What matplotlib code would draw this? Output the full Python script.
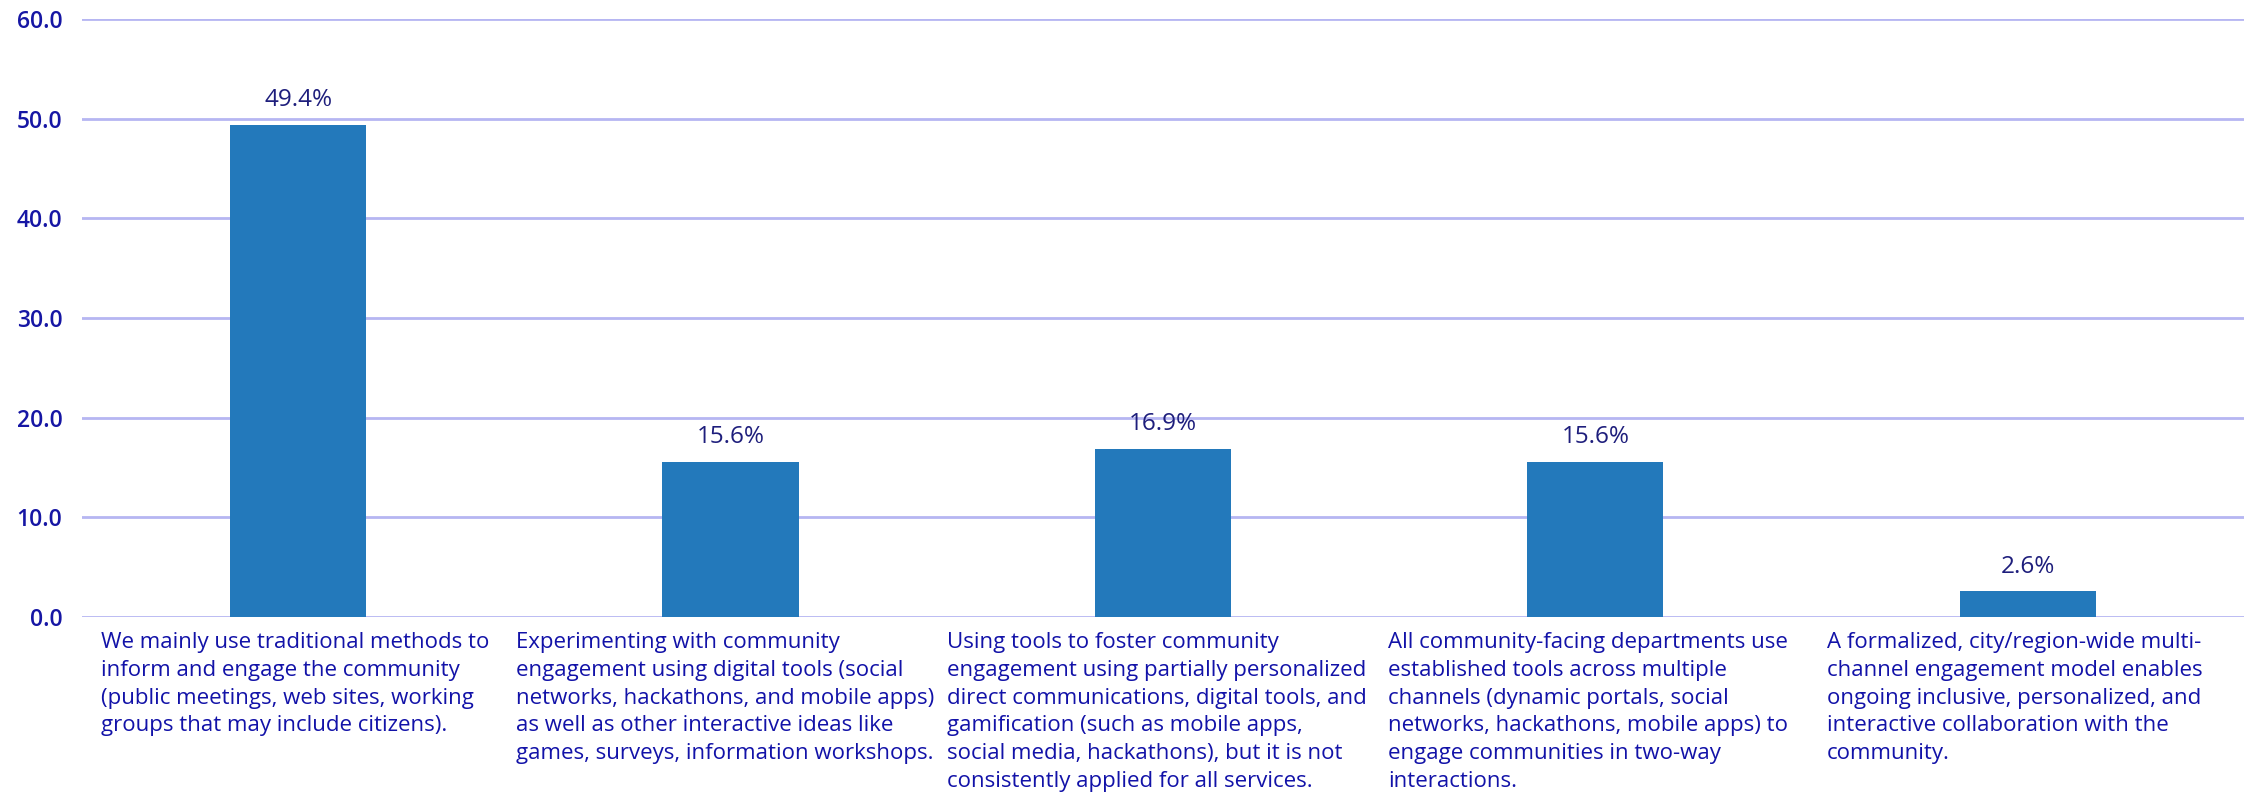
import matplotlib
matplotlib.use('Agg')
import matplotlib.pyplot as plt
import numpy as np

# Share of responses for each community engagement maturity level
categories = [
    'We mainly use traditional methods to\ninform and engage the community\n(public meetings, web sites, working\ngroups that may include citizens).',
    'Experimenting with community\nengagement using digital tools (social\nnetworks, hackathons, and mobile apps)\nas well as other interactive ideas like\ngames, surveys, information workshops.',
    'Using tools to foster community\nengagement using partially personalized\ndirect communications, digital tools, and\ngamification (such as mobile apps,\nsocial media, hackathons), but it is not\nconsistently applied for all services.',
    'All community-facing departments use\nestablished tools across multiple\nchannels (dynamic portals, social\nnetworks, hackathons, mobile apps) to\nengage communities in two-way\ninteractions.',
    'A formalized, city/region-wide multi-\nchannel engagement model enables\nongoing inclusive, personalized, and\ninteractive collaboration with the\ncommunity.',
]
values = [49.4, 15.6, 16.9, 15.6, 2.6]
yticks = [0, 10, 20, 30, 40, 50, 60]

BAR = '#2379bb'
GRID = '#b6b6f2'
TICK = '#1616a4'
LABEL = '#1212a8'
VALUE = '#1e1e7c'

plt.rcParams['font.family'] = ['Open Sans', 'DejaVu Sans']

fig = plt.figure(figsize=(22.44, 7.97), dpi=100)
ax = fig.add_axes([0.0365, 0.2258, 0.9635, 0.7504])

x = np.arange(len(values))
bars = ax.bar(x, values, width=0.315, color=BAR, zorder=3)

ax.set_xlim(-0.5, len(values) - 0.5)
ax.set_ylim(0, 60)
ax.set_yticks(yticks)
ax.set_yticklabels(['%.1f' % t for t in yticks], color=TICK, fontsize=16.5,
                   fontweight='semibold')
ax.tick_params(axis='y', length=0, pad=14)
ax.set_xticks([])
ax.grid(axis='y', color=GRID, linewidth=2, zorder=0)
for s in ax.spines.values():
    s.set_visible(False)

# value labels above bars
for b, v in zip(bars, values):
    ax.annotate('%.1f%%' % v, (b.get_x() + b.get_width() / 2, v),
                xytext=(0, 9), textcoords='offset points', ha='center',
                va='bottom', color=VALUE, fontsize=17.5)

# wrapped category descriptions under each slot
offsets = [0.045, 0.003, 0.0, 0.02, 0.035]
for i, (lab, off) in enumerate(zip(categories, offsets)):
    ax.annotate(lab, (i - 0.5 + off, 0), xytext=(0, -11),
                textcoords='offset points', ha='left', va='top',
                color=LABEL, fontsize=16, linespacing=1.42,
                annotation_clip=False)

fig.savefig('out.png', dpi=100)
